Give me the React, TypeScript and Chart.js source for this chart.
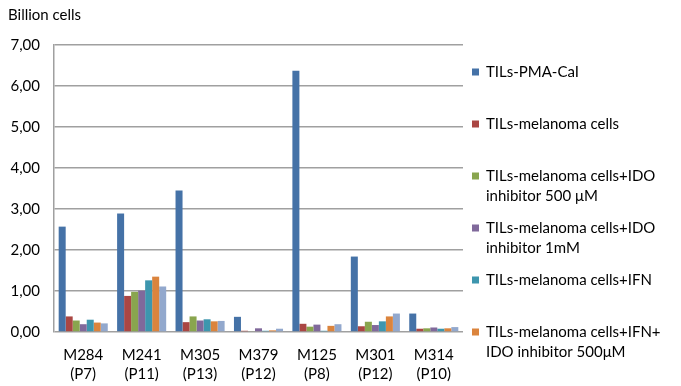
import { useEffect, useRef } from "react";
import { Chart, registerables } from "chart.js";
Chart.register(...registerables);

const categories = [
  ["M284", "(P7)"],
  ["M241", "(P11)"],
  ["M305", "(P13)"],
  ["M379", "(P12)"],
  ["M125", "(P8)"],
  ["M301", "(P12)"],
  ["M314", "(P10)"],
];
const pmaCal = [2.57, 2.89, 3.45, 0.37, 6.37, 1.84, 0.45];
const melanoma = [0.38, 0.88, 0.24, 0.03, 0.2, 0.14, 0.08];
const ido500 = [0.28, 0.98, 0.38, 0.02, 0.13, 0.25, 0.09];
const ido1mM = [0.19, 1.01, 0.28, 0.09, 0.18, 0.17, 0.11];
const ifn = [0.3, 1.26, 0.31, 0.03, 0.03, 0.26, 0.08];
const ifnIdo = [0.23, 1.35, 0.26, 0.04, 0.15, 0.38, 0.09];
const extra = [0.21, 1.11, 0.27, 0.08, 0.19, 0.45, 0.12];

const seriesLabels = [
  ["TILs-PMA-CaI"],
  ["TILs-melanoma cells"],
  ["TILs-melanoma cells+IDO", "inhibitor 500 μM"],
  ["TILs-melanoma cells+IDO", "inhibitor 1mM"],
  ["TILs-melanoma cells+IFN"],
  ["TILs-melanoma cells+IFN+", "IDO inhibitor 500μM"],
  ["TILs-melanoma cells+IFN+", "IDO inhibitor 1mM"],
];
const colors = ["#4572A7", "#AA4643", "#89A54E", "#80699B", "#3D96AE", "#DB843D", "#92A8CD"];
const legendCount = 6;
const FONT = "Lato, 'Open Sans', sans-serif";

const legendPlugin = {
  id: "sideLegend",
  afterDraw(chart: any) {
    const ctx = chart.ctx;
    ctx.save();
    ctx.font = `15px ${FONT}`;
    ctx.textBaseline = "middle";
    ctx.fillStyle = "#000";
    for (let i = 0; i < legendCount; i++) {
      const y = 72 + i * 52;
      ctx.fillStyle = colors[i];
      ctx.fillRect(472, y - 3.5, 7, 7);
      ctx.fillStyle = "#000";
      seriesLabels[i].forEach((line, j) => ctx.fillText(line, 486, y + j * 20));
    }
    ctx.font = `15px ${FONT}`;
    ctx.fillText("Billion cells", 8, 15);
    ctx.restore();
  },
};

export default function App() {
  const ref = useRef<HTMLCanvasElement>(null);
  useEffect(() => {
    const datas = [pmaCal, melanoma, ido500, ido1mM, ifn, ifnIdo, extra];
    const chart = new Chart(ref.current!, {
      type: "bar",
      data: {
        labels: categories,
        datasets: datas.map((d, i) => ({
          label: seriesLabels[i].join(" "),
          data: d,
          backgroundColor: colors[i],
          categoryPercentage: 0.84,
          barPercentage: 1,
        })),
      },
      options: {
        animation: false,
        responsive: false,
        layout: { padding: { left: 0, right: 218, top: 45, bottom: 0 } },
        plugins: { legend: { display: false }, tooltip: { enabled: false } },
        scales: {
          x: {
            grid: { display: false },
            border: { display: false },
            ticks: { color: "#000", font: { family: FONT, size: 15, lineHeight: 1.3 }, padding: 5, maxRotation: 0 },
            afterFit: (s: any) => { s.height = 54; },
          },
          y: {
            min: 0,
            max: 7,
            ticks: {
              stepSize: 1,
              color: "#000",
              padding: 14,
              font: { family: FONT, size: 15 },
              callback: (v: any) => Number(v).toFixed(2).replace(".", ","),
            },
            grid: { color: "#a0a0a0", lineWidth: 1.5, drawTicks: false },
            border: { display: true, color: "#a0a0a0", width: 1.5 },
            afterFit: (s: any) => { s.width = 54; },
          },
        },
      },
      plugins: [legendPlugin],
    });
    return () => chart.destroy();
  }, []);
  return (
    <div style={{ position: "absolute", left: 0, top: 0, width: 681, height: 386, background: "#fff" }}>
      <canvas ref={ref} width={681} height={386} />
    </div>
  );
}
